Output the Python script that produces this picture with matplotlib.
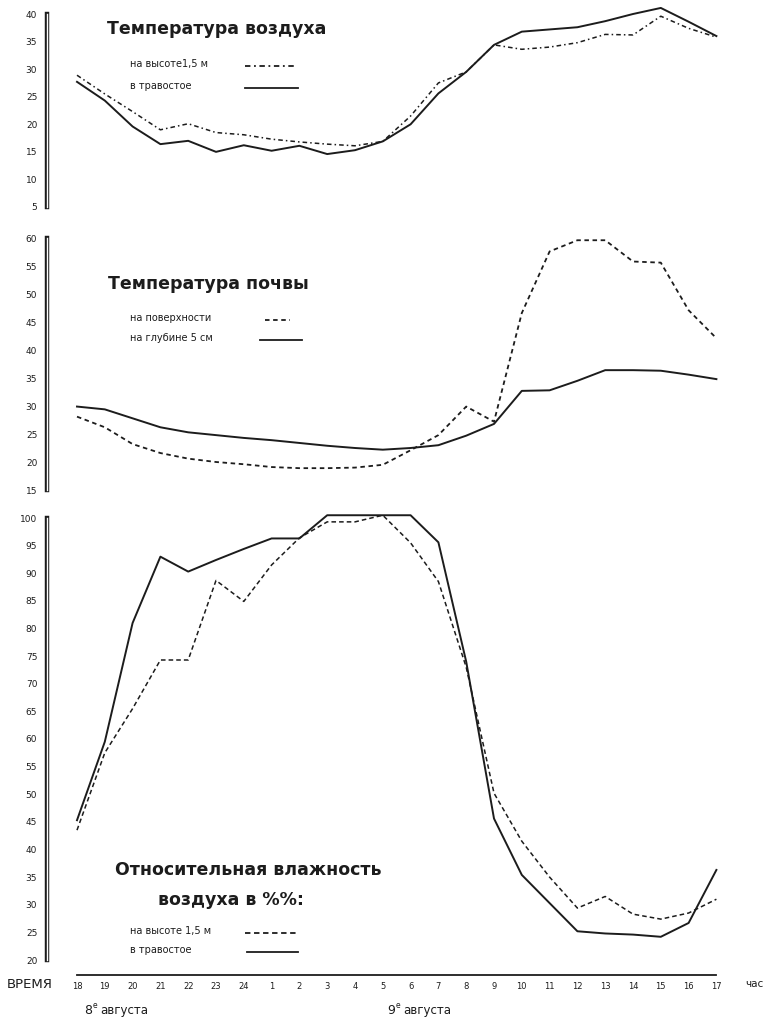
import numpy as np
import matplotlib.pyplot as plt
from matplotlib.lines import Line2D

# часы наблюдений: с 18 ч 8 августа до 17 ч 9 августа
hours = [18, 19, 20, 21, 22, 23, 24, 1, 2, 3, 4, 5, 6, 7, 8, 9, 10, 11, 12, 13, 14, 15, 16, 17]

# температура воздуха
air_15m = [28.9, 25.5, 22.3, 19.0, 20.1, 18.5, 18.1, 17.3, 16.8, 16.4, 16.1, 16.9,
           21.5, 27.5, 29.5, 34.4, 33.6, 34.0, 34.8, 36.3, 36.2, 39.6, 37.4, 35.8]
air_grass = [27.7, 24.3, 19.6, 16.4, 17.0, 15.0, 16.2, 15.2, 16.1, 14.6, 15.3, 16.9,
             20.0, 25.6, 29.5, 34.4, 36.8, 37.2, 37.6, 38.7, 40.0, 41.1, 38.6, 36.0]

# температура почвы
soil_surface = [28.1, 26.2, 23.2, 21.6, 20.6, 20.0, 19.6, 19.1, 18.9, 18.9, 19.0, 19.5,
                22.1, 24.8, 29.9, 27.2, 46.6, 57.6, 59.6, 59.6, 55.8, 55.6, 47.1, 42.1]
soil_5cm = [29.9, 29.4, 27.8, 26.2, 25.3, 24.8, 24.3, 23.9, 23.4, 22.9, 22.5, 22.2,
            22.5, 23.0, 24.7, 26.8, 32.7, 32.8, 34.5, 36.4, 36.4, 36.3, 35.6, 34.8]

# относительная влажность
hum_15m = [43.5, 57.5, 65.5, 74.3, 74.3, 88.7, 84.9, 91.5, 96.4, 99.3, 99.3, 100.5,
           95.5, 88.5, 73.0, 50.2, 41.5, 35.0, 29.4, 31.5, 28.3, 27.4, 28.5, 31.0]
hum_grass = [45.3, 59.5, 81.0, 93.0, 90.3, 92.4, 94.4, 96.3, 96.3, 100.5, 100.5, 100.5,
             100.5, 95.6, 74.0, 45.6, 35.4, 30.3, 25.2, 24.8, 24.6, 24.2, 26.7, 36.3]

W, H = 766, 1021
INK = '#1c1c1c'

fig = plt.figure(figsize=(W / 100, H / 100), dpi=100)


def fx(px):
    return px / W


def fy(py):
    return 1 - py / H


x = np.arange(len(hours))
step = 27.8
x0 = 77
xlim = (-x0 / step, (W - x0) / step)
spine_x = (47 - x0) / step


def make_axes(top_px, bot_px, v_top, px_top, v_bot, px_bot, ticks):
    ax = fig.add_axes([0, fy(bot_px), 1, (bot_px - top_px) / H])
    ax.patch.set_alpha(0)
    k = (px_bot - px_top) / (v_top - v_bot)
    ax.set_ylim(v_bot - (bot_px - px_bot) / k, v_top + (px_top - top_px) / k)
    ax.set_xlim(*xlim)
    for s in ['top', 'right', 'bottom']:
        ax.spines[s].set_visible(False)
    ax.spines['left'].set_position(('data', spine_x))
    ax.spines['left'].set_bounds(ticks[0], ticks[-1])
    ax.spines['left'].set_linewidth(3.2)
    ax.spines['left'].set_color(INK)
    # полый "двойной" вид оси, как на оригинале
    ax.plot([spine_x, spine_x], [ticks[0], ticks[-1]], color='white', lw=1.0,
            clip_on=False, zorder=5)
    ax.set_yticks(ticks)
    ax.set_yticklabels([str(t) for t in ticks])
    ax.tick_params(axis='y', length=0, pad=7, labelsize=6.5, labelcolor=INK)
    ax.set_xticks([])
    return ax


ax1 = make_axes(0, 215, 40, 14, 5, 207, list(range(5, 41, 5)))
ax2 = make_axes(215, 500, 60, 238, 15, 490, list(range(15, 61, 5)))
ax3 = make_axes(500, 975, 100, 518, 20, 960, list(range(20, 101, 5)))

ax1.plot(x, air_15m, color=INK, lw=1.1, ls=(0, (3, 2, 1, 2)))
ax1.plot(x, air_grass, color=INK, lw=1.4)
ax2.plot(x, soil_surface, color=INK, lw=1.3, ls=(0, (2.5, 2)))
ax2.plot(x, soil_5cm, color=INK, lw=1.4)
ax3.plot(x, hum_15m, color=INK, lw=1.1, ls=(0, (3, 2)))
ax3.plot(x, hum_grass, color=INK, lw=1.4)

# ось времени
ax3.spines['bottom'].set_visible(True)
ax3.spines['bottom'].set_bounds(0, len(hours) - 1)
ax3.spines['bottom'].set_linewidth(1.3)
ax3.spines['bottom'].set_color(INK)
ax3.set_xticks(x)
ax3.set_xticklabels([str(h) for h in hours])
ax3.tick_params(axis='x', length=0, pad=5, labelsize=6, labelcolor=INK)

fig.text(fx(30), fy(984), 'ВРЕМЯ', fontsize=9.5, ha='center', va='center', color=INK)
fig.text(fx(754), fy(984), 'час', fontsize=7.5, ha='center', va='center', color=INK)
fig.text(fx(88), fy(1010), '8', fontsize=9, ha='center', va='center', color=INK)
fig.text(fx(95), fy(1005), 'е', fontsize=5.5, ha='center', va='center', color=INK)
fig.text(fx(100), fy(1010), 'августа', fontsize=8.5, ha='left', va='center', color=INK)
fig.text(fx(391), fy(1010), '9', fontsize=9, ha='center', va='center', color=INK)
fig.text(fx(398), fy(1005), 'е', fontsize=5.5, ha='center', va='center', color=INK)
fig.text(fx(403), fy(1010), 'августа', fontsize=8.5, ha='left', va='center', color=INK)


def legend_block(title_lines, title_y, title_x, entries):
    for t, ty, tx in zip(title_lines, title_y, title_x):
        fig.text(fx(tx), fy(ty), t, fontsize=12.5, fontweight='bold',
                 ha='center', va='center', color=INK)
    for label, ly, lx0, lx1, style in entries:
        fig.text(fx(130), fy(ly), label, fontsize=7, ha='left', va='center', color=INK)
        fig.add_artist(Line2D([fx(lx0), fx(lx1)], [fy(ly + 2), fy(ly + 2)], color=INK,
                              lw=1.3, ls=style, transform=fig.transFigure))


legend_block(['Температура воздуха'], [29], [217],
             [('на высоте1,5 м', 64, 245, 296, (0, (3, 2, 1, 2))),
              ('в травостое', 86, 245, 298, '-')])
legend_block(['Температура почвы'], [284], [208],
             [('на поверхности', 318, 265, 290, (0, (2.5, 2))),
              ('на глубине 5 см', 338, 260, 302, '-')])
legend_block(['Относительная влажность', 'воздуха в %%:'], [870, 900], [248, 231],
             [('на высоте 1,5 м', 931, 245, 297, (0, (3, 2))),
              ('в травостое', 950, 247, 298, '-')])

fig.savefig('out.png', dpi=100)
